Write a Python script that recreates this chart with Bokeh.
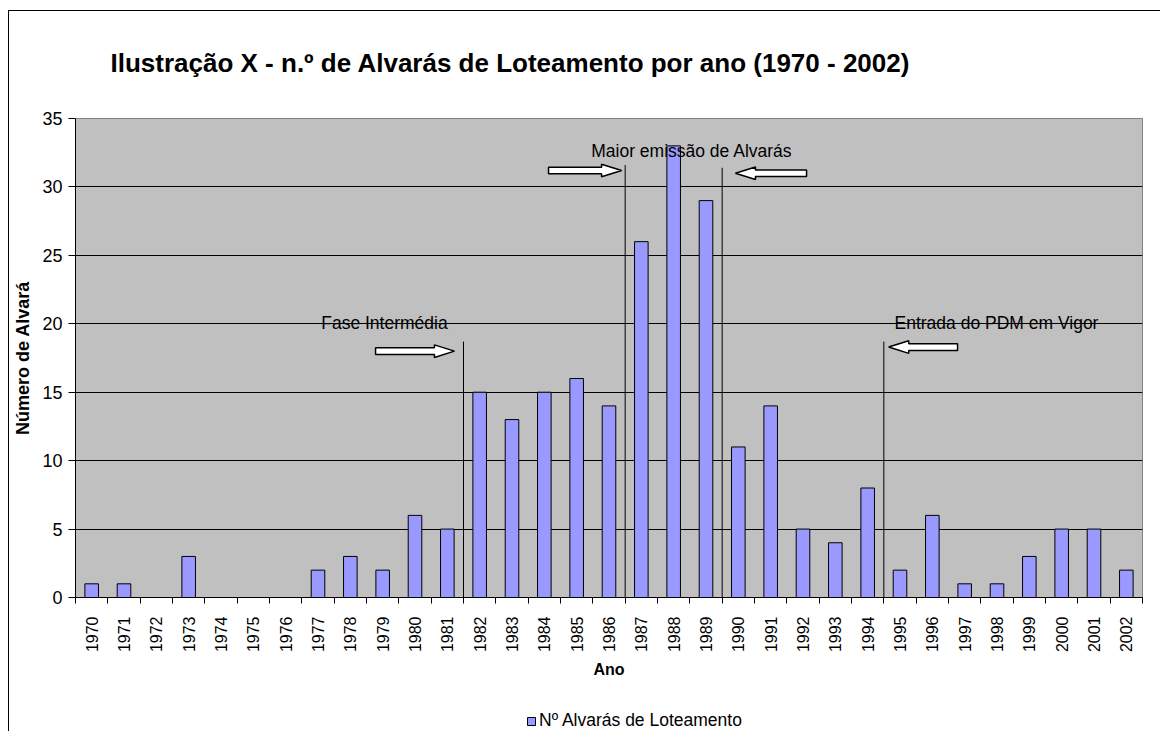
import math
from bokeh.plotting import figure
from bokeh.layouts import column
from bokeh.models import Range1d, FixedTicker, Legend, LegendItem, Title, ColumnDataSource
from bokeh.core.properties import value
from bokeh.embed import file_html
from bokeh.resources import INLINE

# ---- data ----
years = [1970, 1971, 1972, 1973, 1974, 1975, 1976, 1977, 1978, 1979, 1980,
         1981, 1982, 1983, 1984, 1985, 1986, 1987, 1988, 1989, 1990, 1991,
         1992, 1993, 1994, 1995, 1996, 1997, 1998, 1999, 2000, 2001, 2002]
alvaras = [1, 1, 0, 3, 0, 0, 0, 2, 3, 2, 6,
           5, 15, 13, 15, 16, 14, 26, 33, 29, 11, 14,
           5, 4, 8, 2, 6, 1, 1, 3, 5, 5, 2]
y_ticks = [0, 5, 10, 15, 20, 25, 30, 35]

# annotation layer (period markers, arrows, notes)
marker_x = [1981.5, 1986.5, 1989.5, 1994.5]
marker_top = [18.7, 31.6, 31.4, 18.7]
arrow_tail = [1978.78, 1984.13, 1992.11, 1996.78]
arrow_tip = [1981.22, 1986.39, 1989.91, 1994.65]
arrow_y = [18.0, 31.2, 31.0, 18.3]
note_text = ["Fase Intermédia", "Maior emissão de Alvarás", "Entrada do PDM em Vigor"]
note_x = [1977.1, 1985.45, 1994.83]
note_y = [20.05, 32.6, 20.05]

title_text = "Ilustração X - n.º de Alvarás de Loteamento por ano (1970 - 2002)"
legend_label = "Nº Alvarás de Loteamento"
FONT = "Liberation Sans"
BAR_FILL = "#9999FF"

x_range = Range1d(years[0] - 0.5, years[-1] + 0.5)

p = figure(width=1160, height=701, output_backend="svg", toolbar_location=None,
           x_range=x_range, y_range=Range1d(y_ticks[0], y_ticks[-1]),
           min_border_left=75, min_border_right=18, min_border_top=118, min_border_bottom=104)
p.border_fill_color = None
p.background_fill_color = "#C0C0C0"
p.outline_line_color = "#808080"
p.outline_line_width = 1
p.styles = {"box-shadow": "inset 0 10px 0 0 #ffffff, inset 8px 0 0 0 #ffffff, "
                          "inset 0 11px 0 0 #000000, inset 9px 0 0 0 #000000"}

# title
p.add_layout(Title(text=title_text, align="left", offset=35, standoff=81,
                   text_font=FONT, text_font_size="26px", text_font_style="bold",
                   text_color="black"), "above")

# bars
src = ColumnDataSource(dict(x=years, top=alvaras))
bars = p.vbar(x="x", top="top", width=0.42, source=src,
              fill_color=BAR_FILL, line_color="black", line_width=1)

# y axis
p.yaxis.ticker = FixedTicker(ticks=y_ticks)
p.yaxis.axis_line_color = "black"
p.yaxis.major_tick_out = 7
p.yaxis.major_tick_in = 0
p.yaxis.minor_tick_out = 0
p.yaxis.minor_tick_in = 0
p.yaxis.major_tick_line_color = "black"
p.yaxis.major_label_text_font = FONT
p.yaxis.major_label_text_font_size = "18px"
p.yaxis.major_label_text_color = "black"
p.yaxis.major_label_standoff = 6
p.yaxis.axis_label = "Número de Alvará"
p.yaxis.axis_label_text_font = FONT
p.yaxis.axis_label_text_font_size = "18px"
p.yaxis.axis_label_text_font_style = "bold"
p.yaxis.axis_label_text_color = "black"
p.yaxis.axis_label_standoff = 6

# x axis: labels at years, ticks at the boundaries between years
boundaries = [y - 0.5 for y in years] + [years[-1] + 0.5]
p.xaxis.ticker = FixedTicker(ticks=years, minor_ticks=boundaries)
p.xaxis.major_label_overrides = {y: str(y) for y in years}
p.xaxis.axis_line_color = "black"
p.xaxis.major_tick_out = 0
p.xaxis.major_tick_in = 0
p.xaxis.minor_tick_out = 6
p.xaxis.minor_tick_in = 0
p.xaxis.minor_tick_line_color = "black"
p.xaxis.major_label_orientation = math.pi / 2
p.xaxis.major_label_text_font = FONT
p.xaxis.major_label_text_font_size = "16px"
p.xaxis.major_label_text_color = "black"
p.xaxis.major_label_standoff = 13
p.xaxis.axis_label = "Ano"
p.xaxis.axis_label_text_font = FONT
p.xaxis.axis_label_text_font_size = "16px"
p.xaxis.axis_label_text_font_style = "bold"
p.xaxis.axis_label_text_color = "black"
p.xaxis.axis_label_standoff = 6

# grid
p.xgrid.grid_line_color = None
p.ygrid.ticker = FixedTicker(ticks=y_ticks[1:-1])
p.ygrid.grid_line_color = "black"
p.ygrid.grid_line_width = 1

# period marker lines
p.segment(x0=marker_x, y0=[0] * len(marker_x), x1=marker_x, y1=marker_top,
          line_color="#000000", line_width=1)

# block arrows
L, h1, h2 = 0.62, 0.245, 0.46
xs, ys = [], []
for t0, t1, yy in zip(arrow_tail, arrow_tip, arrow_y):
    d = 1 if t1 > t0 else -1
    b = t1 - d * L
    xs.append([t0, b, b, t1, b, b, t0])
    ys.append([yy - h1, yy - h1, yy - h2, yy, yy + h2, yy + h1, yy + h1])
p.patches(xs, ys, fill_color="white", line_color="black", line_width=1.5)

# notes
p.text(x=note_x, y=note_y, text=note_text, text_font=value(FONT),
       text_font_size="17.5px", text_color="black", text_baseline="alphabetic",
       text_align="left")

# ---- legend strip (separate small figure, frame aligned with the main one) ----
lg = figure(width=1160, height=30, output_backend="svg", toolbar_location=None,
            x_axis_location=None, y_axis_location=None,
            min_border_left=75, min_border_right=18, min_border_top=0, min_border_bottom=0,
            x_range=x_range, y_range=Range1d(0, 1))
lg.grid.visible = False
lg.outline_line_color = None
lg.border_fill_color = None
lg.background_fill_color = None
lg.styles = {"box-shadow": "inset 8px 0 0 0 #ffffff, inset 9px 0 0 0 #000000"}
proxy = lg.vbar(x="x", top="top", width=0.42, source=src, fill_color=BAR_FILL,
                line_color="black", line_width=1, visible=False)
legend = Legend(items=[LegendItem(label=legend_label, renderers=[proxy])],
                location=(451, 0), orientation="horizontal",
                border_line_color=None, background_fill_alpha=0,
                label_text_font=FONT, label_text_font_size="17.5px",
                label_text_color="black", glyph_width=10, glyph_height=10,
                label_standoff=3, padding=0, margin=0, spacing=0)
lg.add_layout(legend, "center")

layout = column(p, lg, spacing=0)
open("out.html", "w").write(file_html(layout, INLINE))
